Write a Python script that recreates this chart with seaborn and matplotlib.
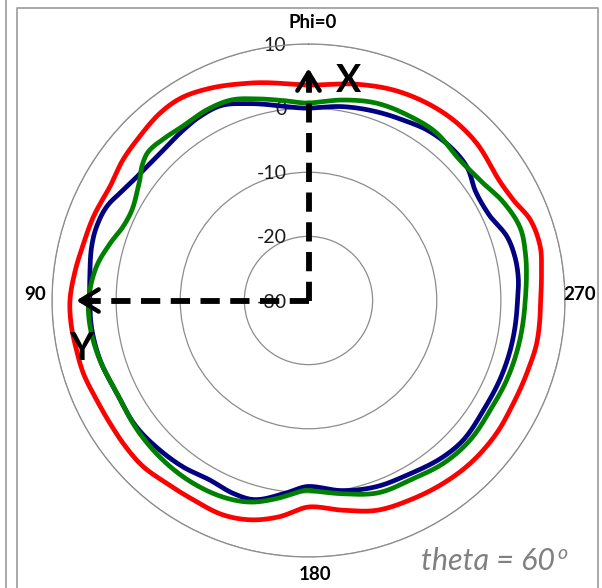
import numpy as np
import pandas as pd
import matplotlib
matplotlib.use("Agg")
import matplotlib.pyplot as plt
import seaborn as sns
from matplotlib.lines import Line2D
from matplotlib.transforms import offset_copy

sns.set_style("white")
plt.rcParams["font.family"] = ["Lato", "DejaVu Sans"]

# Gain patterns (dB) versus azimuth Phi (degrees), one list per trace
red_phi = [0, 15, 25, 32, 38, 46, 53, 60, 69, 76, 83, 90, 96, 102, 108, 115, 122, 128,
           135, 142, 150, 158, 165, 172, 180, 189, 198, 207, 216, 225, 235, 243, 252,
           259, 265, 270, 277, 283, 290, 296, 303, 313, 321, 329, 338, 347]
red_db = [3.6, 5.1, 6.5, 7.3, 7.3, 6.7, 6.3, 5.7, 6.0, 6.2, 6.7, 7.2, 7.2, 7.0, 6.9, 6.5,
          6.4, 6.5, 6.55, 6.1, 5.9, 6.0, 5.4, 4.1, 2.2, 3.1, 4.4, 4.9, 5.4, 5.8, 5.9, 5.75,
          5.9, 6.2, 6.2, 6.2, 6.6, 7.1, 6.8, 5.6, 5.15, 5.9, 6.1, 5.9, 5.4, 4.6]

blue_phi = [0, 7, 17, 24, 31, 36, 44, 52, 59, 65, 71, 76, 83, 90, 97, 106, 116, 126, 135,
            143, 151, 159, 165, 173, 180, 190, 200, 210, 221, 228, 238, 248, 256, 265,
            270, 276, 282, 288, 295, 303, 310, 317, 325, 332, 340, 350]
blue_db = [0.0, 0.5, 2.1, 3.3, 3.3, 3.0, 2.6, 2.8, 3.6, 4.7, 5.0, 4.85, 4.35, 4.1, 4.1,
           3.8, 3.2, 3.3, 2.9, 2.5, 1.95, 2.3, 2.15, 0.3, -1.0, 0.1, 0.9, 1.3, 2.2, 2.5,
           2.2, 2.3, 2.4, 2.5, 2.6, 2.9, 2.9, 2.5, 1.2, 1.1, 2.3, 2.6, 2.4, 1.8, 1.3, 0.7]

green_phi = [0, 7, 14, 21, 28, 35, 41, 47, 51, 55, 62, 68, 74, 81, 90, 97, 105, 116, 128,
             139, 148, 157, 164, 171, 177, 180, 190, 200, 210, 220, 229, 239, 248, 258,
             265, 270, 275, 282, 289, 297, 304, 313, 323, 331, 341, 350]
green_db = [0.8, 1.4, 2.4, 3.5, 3.7, 3.5, 3.8, 4.1, 3.4, 2.2, 1.0, 1.1, 2.2, 3.5, 4.3,
            4.3, 3.9, 3.2, 3.5, 3.7, 3.7, 3.4, 2.7, 1.25, -0.1, -0.4, 0.6, 1.9, 2.2, 3.0,
            3.3, 3.1, 3.3, 3.5, 3.65, 3.8, 4.1, 4.6, 4.9, 4.0, 2.8, 2.2, 2.9, 2.8, 2.55,
            1.75]

ring_values = [10, 0, -10, -20, -30]
angle_labels = ["Phi=0", "90", "180", "270"]
arrow_tip_db = 6.2


def smooth_closed(phi_deg, db, n=720):
    """Smoothed closed trace through the measured points (cubic Hermite, periodic)."""
    th = np.asarray(phi_deg, float)
    r = np.asarray(db, float)
    th_ext = np.concatenate([th[-1:] - 360, th, th[:1] + 360, th[1:2] + 360])
    r_ext = np.concatenate([r[-1:], r, r[:1], r[1:2]])
    slope = (r_ext[2:] - r_ext[:-2]) / (th_ext[2:] - th_ext[:-2])
    knots, vals = th_ext[1:-1], r_ext[1:-1]
    grid = np.linspace(0, 360, n + 1)
    i = np.clip(np.searchsorted(knots, grid, side="right") - 1, 0, len(knots) - 2)
    h = knots[i + 1] - knots[i]
    t = (grid - knots[i]) / h
    y = ((2 * t**3 - 3 * t**2 + 1) * vals[i] + (t**3 - 2 * t**2 + t) * h * slope[i]
         + (-2 * t**3 + 3 * t**2) * vals[i + 1] + (t**3 - t**2) * h * slope[i + 1])
    return np.deg2rad(grid), y


series = {"blue": (blue_phi, blue_db), "red": (red_phi, red_db), "green": (green_phi, green_db)}
frames = []
for name, (phi, db) in series.items():
    th, g = smooth_closed(phi, db)
    frames.append(pd.DataFrame({"theta": th, "gain": g, "series": name}))
df = pd.concat(frames, ignore_index=True)

W, H = 602, 588
fig = plt.figure(figsize=(W / 100, H / 100), dpi=100)
cx, cy, R = 308.5, 300.5, 256.5
ax = fig.add_axes([(cx - R) / W, 1 - (cy + R) / H, 2 * R / W, 2 * R / H], projection="polar")
ax.set_theta_zero_location("N")
ax.set_theta_direction(1)
ax.set_ylim(-30, 10)
ax.set_yticks([-20, -10, 0, 10])
ax.set_yticklabels([])
ax.set_xticks([])
ax.grid(True, axis="y", color="#8c8c8c", lw=0.9)
ax.spines["polar"].set_color("#8c8c8c")
ax.spines["polar"].set_linewidth(0.9)

# radial value labels, left of the vertical axis
lab_tr = offset_copy(ax.transData, fig=fig, x=-22, y=-1.5, units="dots")
for v in ring_values:
    ax.text(0, v, str(v), transform=lab_tr, ha="right", va="center", fontsize=14,
            color="#1a1a1a", zorder=2)

sns.lineplot(data=df, x="theta", y="gain", hue="series", hue_order=["blue", "red", "green"],
             palette={"blue": "#000080", "red": "#ff0000", "green": "#008000"},
             sort=False, estimator=None, legend=False, lw=3.4, ax=ax,
             solid_joinstyle="round", zorder=3)
ax.set_xlabel("")
ax.set_ylabel("")

# dashed axis arrows for X (Phi=0) and Y (Phi=90)
for th in (0.0, np.pi / 2):
    ax.plot([th, th], [-30, arrow_tip_db - 0.3], color="k", lw=4.2,
            dashes=(3.3, 1.8), solid_capstyle="butt", dash_capstyle="butt", zorder=5)
    ax.annotate("", xy=(th, arrow_tip_db), xytext=(th, arrow_tip_db - 2.5),
                arrowprops=dict(arrowstyle="->,head_length=0.65,head_width=0.4",
                                lw=3.2, color="k", shrinkA=0, shrinkB=0,
                                mutation_scale=20), zorder=5)

fig.text(349 / W, 1 - 81 / H, "X", fontsize=27, fontweight="bold", ha="center",
         va="center", color="black")
fig.text(81 / W, 1 - 349 / H, "Y", fontsize=27, fontweight="bold", ha="center",
         va="center", color="black")

label_pos = [(313, 23), (35, 295), (315, 575), (580, 295)]
for txt, (px, py) in zip(angle_labels, label_pos):
    fig.text(px / W, 1 - py / H, txt, fontsize=13.5, fontweight="bold", ha="center",
             va="center", color="black")

t = fig.text(421 / W, 1 - 570 / H, "theta = 60", fontsize=22, fontstyle="italic",
             color="#808080", ha="left", va="baseline")
fig.canvas.draw()
bb = t.get_window_extent()
fig.text((bb.x1 + 2) / W, 1 - 559 / H, "o", fontsize=14, fontstyle="italic",
         color="#808080", ha="left", va="baseline")

# frame lines
fc = "#a3a3a3"
fig.add_artist(Line2D([6 / W, 6 / W], [0, 1], color=fc, lw=1.3))
fig.add_artist(Line2D([17 / W, 17 / W, 598 / W, 598 / W], [0, 1 - 8 / H, 1 - 8 / H, 0],
                      color=fc, lw=1.3))

fig.savefig("out.png", dpi=100)
